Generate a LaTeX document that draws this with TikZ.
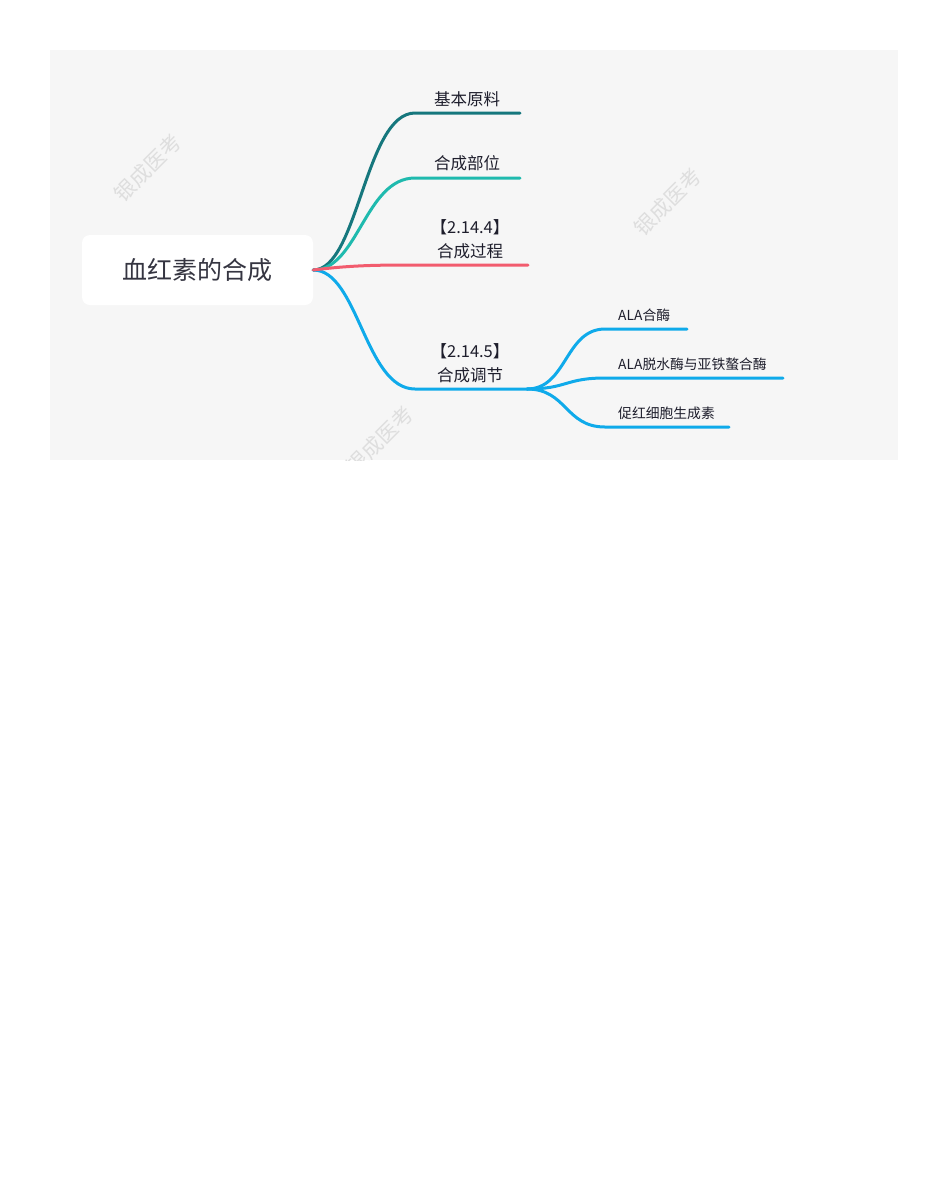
\documentclass[tikz,border=0pt]{standalone}
\usepackage{fontspec}
\setmainfont{Noto Sans CJK SC}
\definecolor{canvas}{HTML}{F6F6F6}
\definecolor{inkdark}{HTML}{1E1E2C}
\definecolor{deepteal}{HTML}{16777D}
\definecolor{lightteal}{HTML}{1FBAAE}
\definecolor{rosered}{HTML}{F25C6E}
\definecolor{skyblue}{HTML}{0FAAEA}
\tikzset{
	branch/.style={line width=3pt, line cap=round},
	rootbox/.style={fill=white, rounded corners=8pt, minimum width=231pt, minimum height=70pt, inner sep=0pt, font=\fontsize{25}{29}\selectfont, text=inkdark!90},
	topic/.style={font=\fontsize{16.5}{24}\selectfont, text=inkdark, align=center, inner sep=0pt},
	subtopic/.style={font=\fontsize{13.8}{16}\selectfont, text=inkdark, anchor=west, inner sep=0pt},
	watermark/.style={font=\fontsize{21}{24}\selectfont, text=gray!26, rotate=45}
}
\begin{document}
\begin{tikzpicture}[x=1pt,y=-1pt]

	\useasboundingbox (0,0) rectangle (950,1187);
	\fill[white] (0,0) rectangle (950,1187);
	\fill[canvas] (50,50) rectangle (898,460);

	% watermarks
	\begin{scope}
		\clip (50,50) rectangle (898,460);
		\foreach \x / \y in {148/168, 668/202, 380/440}
		{
			\node[watermark] at (\x,\y) {银成医考};
		};
	\end{scope}

	\node[rootbox] (root) at (197.5,270) {血红素的合成};

	\coordinate (k1) at (415,113);
	\coordinate (t1) at (520,113);
	\coordinate (k2) at (415,178);
	\coordinate (t2) at (520,178);
	\coordinate (k3) at (420,265);
	\coordinate (t3) at (528,265);
	\coordinate (k4) at (415,389);
	\coordinate (t4) at (527,389);

	\foreach \i / \c in {
	1/deepteal,
	2/lightteal,
	4/skyblue}
	{
		\draw[branch,\c] (root.east) .. controls +(45,0) and +(-50,0) .. (k\i) -- (t\i);
	};
	\draw[branch,rosered] (root.east) .. controls +(40,-5) and +(-40,0) .. (k3) -- (t3);

	\node[topic] (l1) at (467,99) {基本原料};
	\node[topic] (l2) at (467,163) {合成部位};
	\node[topic] (l3) at (470,239) {【2.14.4】\\合成过程};
	\node[topic] (l4) at (470,363) {【2.14.5】\\合成调节};

	% regulation
	\foreach \j / \y / \e / \txt in {
	1/329/687/ALA合酶,
	2/378/783/ALA脱水酶与亚铁螯合酶,
	3/427/729/促红细胞生成素}
	{
		\coordinate (s\j) at (605,\y);
		\coordinate (u\j) at (\e,\y);
		\draw[branch,skyblue] (t4) .. controls +(40,0) and +(-40,0) .. (s\j) -- (u\j);
		\node[subtopic] (m\j) at (618,\y-14) {\txt};
	};

\end{tikzpicture}
\end{document}
